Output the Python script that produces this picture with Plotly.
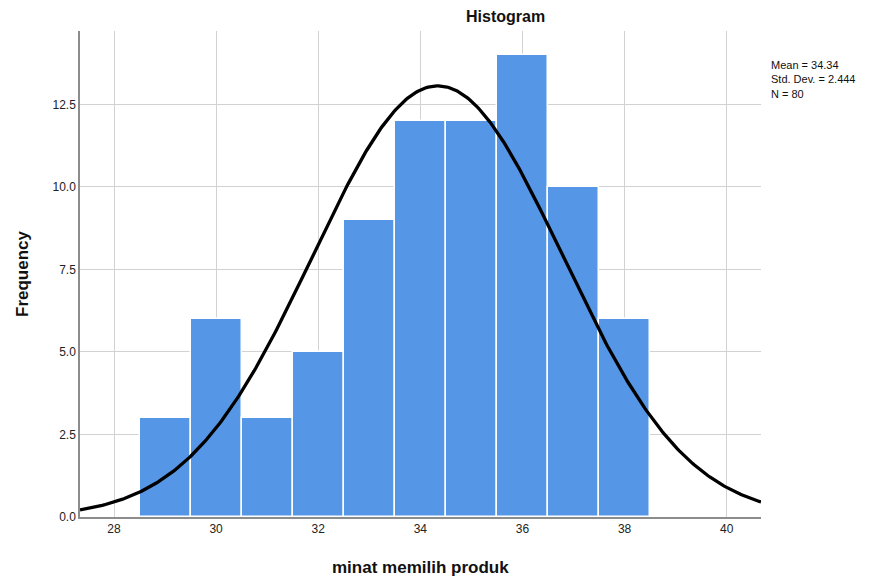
import numpy as np
import plotly.graph_objects as go

# Data
bin_centers = [29, 30, 31, 32, 33, 34, 35, 36, 37, 38]
frequencies = [3, 6, 3, 5, 9, 12, 12, 14, 10, 6]
mean_val = 34.34
std_val = 2.444
n_val = 80
bin_width = 1.0
x_ticks = [28, 30, 32, 34, 36, 38, 40]
y_ticks = [0, 2.5, 5, 7.5, 10, 12.5]
y_tick_labels = ["0.0", "2.5", "5.0", "7.5", "10.0", "12.5"]

x_range = [27.334, 40.672]
y_range = [0, 14.72]

# Fitted normal curve (from reported mean / sd / N)
xc = np.linspace(x_range[0], x_range[1], 400)
yc = n_val * bin_width / (std_val * np.sqrt(2 * np.pi)) * np.exp(-0.5 * ((xc - mean_val) / std_val) ** 2)

fig = go.Figure()
fig.add_trace(go.Bar(
    x=bin_centers, y=frequencies, width=bin_width,
    marker=dict(color="#5596e6", line=dict(color="white", width=1.5)),
    hoverinfo="x+y", showlegend=False,
))
fig.add_trace(go.Scatter(
    x=xc, y=yc, mode="lines",
    line=dict(color="black", width=3.3), showlegend=False, hoverinfo="skip",
))

font_family = "Liberation Sans, Arial, sans-serif"
plot_w = 681
plot_h = 486
fig.update_layout(
    width=863, height=571,
    margin=dict(l=72, r=110, t=23, b=62),
    plot_bgcolor="white", paper_bgcolor="white",
    font=dict(family=font_family, color="#222222"),
    bargap=0,
    xaxis=dict(
        range=x_range, tickvals=x_ticks, ticktext=[str(t) for t in x_ticks],
        showgrid=True, gridcolor="#d2d2d2", gridwidth=1.2,
        showline=True, linecolor="#8c8c8c", linewidth=1.5,
        ticks="", zeroline=False, automargin=False,
        tickfont=dict(size=12, color="#222222"),
    ),
    yaxis=dict(
        range=y_range, tickvals=y_ticks, ticktext=y_tick_labels,
        showgrid=True, gridcolor="#d2d2d2", gridwidth=1.2,
        showline=True, linecolor="#8c8c8c", linewidth=1.5,
        ticks="", zeroline=False,
        tickfont=dict(size=12, color="#222222"),
        title=dict(text="<b>Frequency</b>", font=dict(size=17, color="#111111"), standoff=20),
    ),
    annotations=[
        dict(text="<b>Histogram</b>", xref="paper", yref="paper",
             x=(505 - 80) / plot_w, y=1 + 15 / plot_h, xanchor="center", yanchor="middle",
             showarrow=False, font=dict(size=16, color="#111111")),
        dict(text="<b>minat memilih produk</b>", xref="paper", yref="paper",
             x=(420 - 80) / plot_w, y=-50 / plot_h, xanchor="center", yanchor="middle",
             showarrow=False, font=dict(size=17, color="#111111")),
        dict(text="Mean = 34.34<br>Std. Dev. = 2.444<br>N = 80",
             xref="paper", yref="paper", x=1.012, y=1 - 26 / plot_h, xanchor="left", yanchor="top",
             align="left", showarrow=False, font=dict(size=11, color="#111111")),
    ],
)

fig.write_html("out.html")
